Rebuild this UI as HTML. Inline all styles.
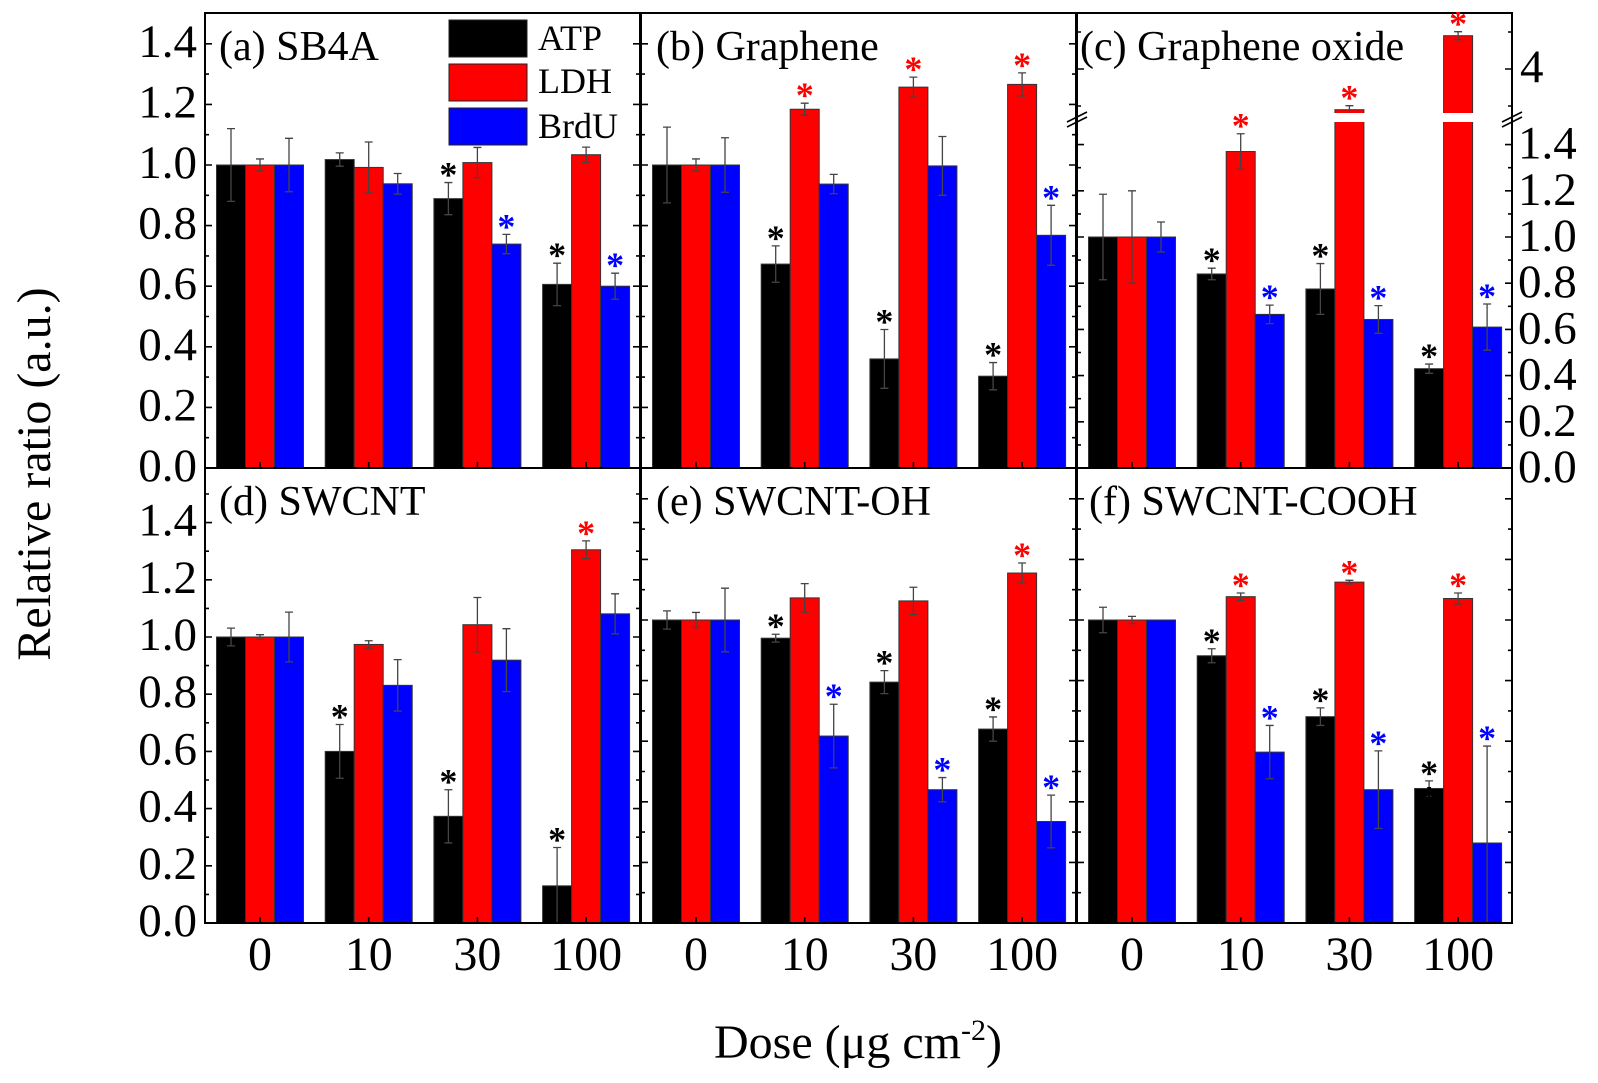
<!DOCTYPE html>
<html><head><meta charset="utf-8"><style>
html,body{margin:0;padding:0;background:#fff;}
svg{display:block;}
svg text{font-family:"Liberation Serif",serif;}
</style></head><body>
<svg id="chart" width="1598" height="1083" viewBox="0 0 1598 1083" xmlns="http://www.w3.org/2000/svg" font-family="Liberation Serif, serif">
<g id="marks"></g>
<g id="axes"></g>
<g id="stars"></g>
<g>
  <rect x="449" y="20" width="78" height="37" fill="#000" stroke="#222"/>
  <rect x="449" y="64" width="78" height="37" fill="#f00" stroke="#222"/>
  <rect x="449" y="108" width="78" height="37" fill="#00f" stroke="#222"/>
  <text x="538" y="50" font-size="36" font-family="Liberation Serif, serif">ATP</text>
  <text x="538" y="93" font-size="36" font-family="Liberation Serif, serif">LDH</text>
  <text x="538" y="138" font-size="36" font-family="Liberation Serif, serif">BrdU</text>
</g>
<text x="858" y="1058" font-size="48" font-family="Liberation Serif, serif" text-anchor="middle">Dose (μg cm<tspan dy="-18" font-size="30">-2</tspan><tspan dy="18">)</tspan></text>
<text transform="translate(50,474) rotate(-90)" font-size="48" font-family="Liberation Serif, serif" text-anchor="middle">Relative ratio (a.u.)</text>
</svg>
<script>
const doses = ["0","10","30","100"];
const seriesNames = ["ATP","LDH","BrdU"];
const colors = ["#000000","#ff0000","#0000ff"];
// panel a
const aATP = [1.0, 1.018, 0.889, 0.606];
const aLDH = [1.0, 0.992, 1.008, 1.034];
const aBrdU = [1.0, 0.938, 0.739, 0.600];
const aErrATP = [0.12, 0.022, 0.053, 0.07];
const aErrLDH = [0.02, 0.084, 0.05, 0.025];
const aErrBrdU = [0.088, 0.034, 0.032, 0.043];
// panel b
const bATP = [1.0, 0.673, 0.360, 0.303];
const bLDH = [1.0, 1.184, 1.257, 1.266];
const bBrdU = [1.0, 0.937, 0.997, 0.768];
const bErrATP = [0.125, 0.06, 0.097, 0.045];
const bErrLDH = [0.02, 0.02, 0.033, 0.038];
const bErrBrdU = [0.09, 0.032, 0.097, 0.099];
// panel c
const cATP = [1.0, 0.84, 0.775, 0.43];
const cLDH = [1.0, 1.37, 3.89, 4.09];
const cBrdU = [1.0, 0.665, 0.643, 0.61];
const cErrATP = [0.185, 0.025, 0.11, 0.02];
const cErrLDH = [0.2, 0.077, 0.008, 0.01];
const cErrBrdU = [0.065, 0.04, 0.06, 0.1];
// panel d
const dATP = [1.0, 0.60, 0.373, 0.13];
const dLDH = [1.0, 0.974, 1.043, 1.305];
const dBrdU = [1.0, 0.831, 0.919, 1.081];
const dErrATP = [0.031, 0.094, 0.093, 0.134];
const dErrLDH = [0.008, 0.013, 0.095, 0.031];
const dErrBrdU = [0.087, 0.09, 0.11, 0.07];
// panel e
const eATP = [1.0, 0.94, 0.795, 0.64];
const eLDH = [1.0, 1.073, 1.063, 1.155];
const eBrdU = [1.0, 0.617, 0.44, 0.335];
const eErrATP = [0.03, 0.013, 0.038, 0.04];
const eErrLDH = [0.025, 0.047, 0.045, 0.033];
const eErrBrdU = [0.105, 0.105, 0.04, 0.087];
// panel f
const fATP = [1.0, 0.882, 0.681, 0.444];
const fLDH = [1.0, 1.077, 1.125, 1.071];
const fBrdU = [1.0, 0.564, 0.44, 0.264];
const fErrATP = [0.042, 0.023, 0.029, 0.025];
const fErrLDH = [0.012, 0.012, 0.006, 0.018];
const fErrBrdU = [0.0, 0.088, 0.128, 0.32];
// significance flags [ATP, LDH, BrdU] per dose
const aSig = [[0,0,0],[0,0,0],[1,0,1],[1,0,1]];
const bSig = [[0,0,0],[1,1,0],[1,1,0],[1,1,1]];
const cSig = [[0,0,0],[1,1,1],[1,1,1],[1,1,1]];
const dSig = [[0,0,0],[1,0,0],[1,0,0],[1,1,0]];
const eSig = [[0,0,0],[1,0,1],[1,0,1],[1,1,1]];
const fSig = [[0,0,0],[1,1,1],[1,1,1],[1,1,1]];
const leftTickLabels = ["0.0","0.2","0.4","0.6","0.8","1.0","1.2","1.4"];
const rightTickLabels = ["0.0","0.2","0.4","0.6","0.8","1.0","1.2","1.4"];

const NS = "http://www.w3.org/2000/svg";
const marks = document.getElementById('marks');
const axes = document.getElementById('axes');
const starsG = document.getElementById('stars');
function mk(tag, attrs, parent){const e=document.createElementNS(NS,tag);for(const k in attrs)e.setAttribute(k,attrs[k]);(parent||marks).appendChild(e);return e;}
const SERIF = 'Liberation Serif, serif';

const TOP0=13, MID=468, BOT=923;
const lefts=[205,641,1077], PW=435;
function linY(zero,k){return v=>zero - v*k;}
const yTop = linY(MID,303);
const yD = linY(BOT,286);
const yEF = linY(BOT,303);
function yC(v){ return v<=1.6 ? MID - v*231 : 69 - (v-4)*370; }

const panels = [
 {id:'a',title:'(a) SB4A',tx:219,L:lefts[0],top:TOP0,bot:MID,y:yTop,d:[aATP,aLDH,aBrdU],e:[aErrATP,aErrLDH,aErrBrdU],s:aSig},
 {id:'b',title:'(b) Graphene',tx:656,L:lefts[1],top:TOP0,bot:MID,y:yTop,d:[bATP,bLDH,bBrdU],e:[bErrATP,bErrLDH,bErrBrdU],s:bSig},
 {id:'c',title:'(c) Graphene oxide',tx:1080,L:lefts[2],top:TOP0,bot:MID,y:yC,d:[cATP,cLDH,cBrdU],e:[cErrATP,cErrLDH,cErrBrdU],s:cSig,brk:true},
 {id:'d',title:'(d) SWCNT',tx:219,L:lefts[0],top:MID,bot:BOT,y:yD,d:[dATP,dLDH,dBrdU],e:[dErrATP,dErrLDH,dErrBrdU],s:dSig},
 {id:'e',title:'(e) SWCNT-OH',tx:656,L:lefts[1],top:MID,bot:BOT,y:yEF,d:[eATP,eLDH,eBrdU],e:[eErrATP,eErrLDH,eErrBrdU],s:eSig},
 {id:'f',title:'(f) SWCNT-COOH',tx:1089,L:lefts[2],top:MID,bot:BOT,y:yEF,d:[fATP,fLDH,fBrdU],e:[fErrATP,fErrLDH,fErrBrdU],s:fSig}
];
const GAP=108.7, BW=29;
function xGroup(p,i){return p.L+55+i*GAP;}
function star(x,y,col){
  const st=mk('text',{x:x,y:y,'font-size':36,'text-anchor':'middle',fill:col,'font-family':'Liberation Sans, sans-serif','font-weight':'bold'},starsG);
  st.textContent='*';
  
  
}

panels.forEach(p=>{
  const clip=mk('clipPath',{id:'clip-'+p.id});
  mk('rect',{x:p.L,y:p.top,width:PW,height:p.bot-p.top},clip);
  const g=mk('g',{'clip-path':'url(#clip-'+p.id+')'});
  
  
  doses.forEach((dose,i)=>{
    const gc=xGroup(p,i);
    for(let s=0;s<3;s++){
      const v=p.d[s][i], err=p.e[s][i];
      const cx=gc+(s-1)*BW;
      const yv=p.y(v);
      const r=mk('rect',{x:cx-BW/2,y:yv,width:BW,height:p.bot-yv,fill:colors[s],stroke:'#333','stroke-width':1},g);
      
      
      let eTop=yv, eBot=yv;
      if(err>0){
        if(p.brk && v>1.6){eTop=yv-4;eBot=yv+4;} else {eTop=p.y(v+err);eBot=p.y(v-err);}
        const eg=mk('path',{d:`M${cx},${eTop}V${eBot}M${cx-4},${eTop}H${cx+4}M${cx-4},${eBot}H${cx+4}`,stroke:'#444','stroke-width':1.3,fill:'none'},g);
        
        
      }
      if(p.s[i][s]){
        star(cx, eTop+4, colors[s]);
        if(p.id==='f' && i===3 && s===0) star(cx, yv+22, colors[s]);
      }
    }
  });
  if(p.brk){
    const gapr=mk('rect',{x:p.L+1,y:113,width:PW-2,height:9,fill:'#fff'},g);
    
    
  }
  const fr=mk('rect',{x:p.L,y:p.top,width:PW,height:p.bot-p.top,fill:'none',stroke:'#000','stroke-width':2},axes);
  
  
  const t=mk('text',{x:p.tx,y:p.top+47,'font-size':42,'font-family':SERIF},axes);
  t.textContent=p.title;
  
  
  let tp='';
  if(p.brk){
    for(let k=0;k<=15;k++){const v=k/10;const yy=yC(v);if(yy<124)continue;const len=k%2===0?7:4;tp+=`M${p.L},${yy}h${len}M${p.L+PW},${yy}h${-len}`;}
    [3.9,4.0,4.1].forEach(v=>{const yy=yC(v);const len=Math.abs(v-4)<0.01?7:4;tp+=`M${p.L},${yy}h${len}M${p.L+PW},${yy}h${-len}`;});
  } else {
    for(let k=1;k<=15;k++){const v=k/10;const yy=p.y(v);if(yy<p.top+2||yy>p.bot-1)continue;const len=k%2===0?7:4;tp+=`M${p.L},${yy}h${len}M${p.L+PW},${yy}h${-len}`;}
  }
  doses.forEach((d,i)=>{tp+=`M${xGroup(p,i)},${p.bot}v-6`;});
  const tk=mk('path',{d:tp,stroke:'#000','stroke-width':1.6,fill:'none'},axes);
  
  
});

leftTickLabels.forEach((lab,k)=>{
  const v=k*0.2;
  const t1=mk('text',{x:197,y:yTop(v)+13,'font-size':47,'text-anchor':'end','font-family':SERIF},axes);
  t1.textContent=lab;
  
  
  const t2=mk('text',{x:197,y:yD(v)+13,'font-size':47,'text-anchor':'end','font-family':SERIF},axes);
  t2.textContent=lab;
  
  
});
rightTickLabels.forEach((lab,k)=>{
  const v=k*0.2;
  const t=mk('text',{x:1518,y:yC(v)+14,'font-size':47,'font-family':SERIF},axes);
  t.textContent=lab;
  
  
});
{
  const t=mk('text',{x:1520,y:yC(4)+13,'font-size':47,'font-family':SERIF},axes);
  t.textContent='4';
  
  
  const br=mk('path',{d:'M1067,122l20,-10M1067,127l20,-10M1502,122l20,-10M1502,127l20,-10',stroke:'#000','stroke-width':1.6,fill:'none'},axes);
  
  
}
[0,1,2].forEach(c=>{
  doses.forEach((d,i)=>{
    const t=mk('text',{x:lefts[c]+55+i*GAP,y:970,'font-size':48,'text-anchor':'middle','font-family':SERIF},axes);
    t.textContent=d;
    
    
  });
});
</script>
</body></html>
